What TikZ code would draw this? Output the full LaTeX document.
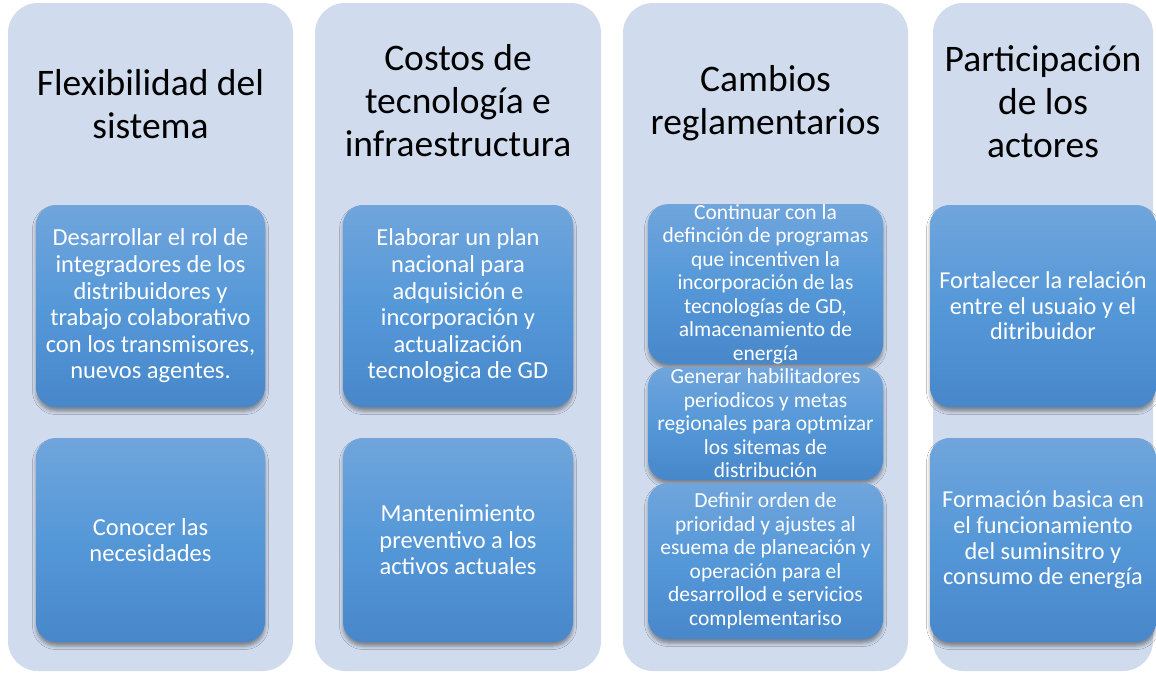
\documentclass[tikz,border=0pt]{standalone}
\usepackage{fontspec}
\setmainfont{Carlito}
\usetikzlibrary{shadows.blur}
\definecolor{colbg}{HTML}{D0DBED}
\definecolor{boxtop}{HTML}{70A5DC}
\definecolor{boxmid}{HTML}{5598D8}
\definecolor{boxbot}{HTML}{4787CA}
\begin{document}
\begin{tikzpicture}[x=1pt,y=-1pt,
  column/.style={fill=colbg, rounded corners=30pt, draw=none, inner sep=0pt},
  header/.style={align=center, font=\fontsize{37.5}{43}\selectfont, text=black},
  stepbox/.style={draw=none, rounded corners=20pt, top color=boxtop, bottom color=boxbot, middle color=boxmid,
    text=white, align=center, inner sep=0pt,
    blur shadow={shadow xshift=0pt, shadow yshift=-4pt, shadow blur radius=3.5pt, shadow opacity=40}},
  txtA/.style={font=\fontsize{24.5}{26.6}\selectfont},
  txtB/.style={font=\fontsize{21.5}{23.5}\selectfont},
  txtC/.style={font=\fontsize{24.3}{25.6}\selectfont}]
\useasboundingbox (0,0) rectangle (1156,672);
\fill[white] (0,0) rectangle (1156,672);
% columns
\node[column, minimum width=285pt, minimum height=668pt] (c1) at (150.5,337) {};
\node[column, minimum width=286pt, minimum height=668pt] (c2) at (458,337) {};
\node[column, minimum width=285pt, minimum height=668pt] (c3) at (765.5,337) {};
\node[column, minimum width=220pt, minimum height=668pt] (c4) at (1043,337) {};
% headers
\node[header] (h1) at (150.5,104) {Flexibilidad del\\sistema};
\node[header] (h2) at (458,101) {Costos de\\tecnología e\\infraestructura};
\node[header] (h3) at (765.5,103) {Cambios\\reglamentarios};
\node[header] (h4) at (1043,102) {Participación\\de los\\actores};
% column 1
\node[stepbox, txtA, minimum width=229pt, minimum height=202pt] (b11) at (150.5,306)
  {Desarrollar el rol de\\integradores de los\\distribuidores y\\trabajo colaborativo\\con los transmisores,\\nuevos agentes.};
\node[stepbox, txtA, minimum width=229pt, minimum height=204pt] (b12) at (150.5,540)
  {Conocer las\\necesidades};
% column 2
\node[stepbox, txtA, minimum width=230pt, minimum height=202pt] (b21) at (458,306)
  {Elaborar un plan\\nacional para\\adquisición e\\incorporación y\\actualización\\tecnologica de GD};
\node[stepbox, txtA, minimum width=230pt, minimum height=204pt] (b22) at (458,540)
  {Mantenimiento\\preventivo a los\\activos actuales};
% column 3
\node[stepbox, txtB, minimum width=235pt, minimum height=158pt] (b31) at (765.5,284)
  {Continuar con la\\definción de programas\\que incentiven la\\incorporación de las\\tecnologías de GD,\\almacenamiento de\\energía};
\node[stepbox, txtB, minimum width=235pt, minimum height=113pt] (b32) at (765.5,423.5)
  {Generar habilitadores\\periodicos y metas\\regionales para optmizar\\los sitemas de\\distribución};
\node[stepbox, txtB, minimum width=235pt, minimum height=156pt] (b33) at (765.5,561)
  {Definir orden de\\prioridad y ajustes al\\esuema de planeación y\\operación para el\\desarrollod e servicios\\complementariso};
% column 4
\node[stepbox, txtC, minimum width=226pt, minimum height=202pt] (b41) at (1043,306)
  {Fortalecer la relación\\entre el usuaio y el\\ditribuidor};
\node[stepbox, txtC, minimum width=226pt, minimum height=204pt] (b42) at (1043,540)
  {Formación basica en\\el funcionamiento\\del suminsitro y\\consumo de energía};
\end{tikzpicture}
\end{document}
